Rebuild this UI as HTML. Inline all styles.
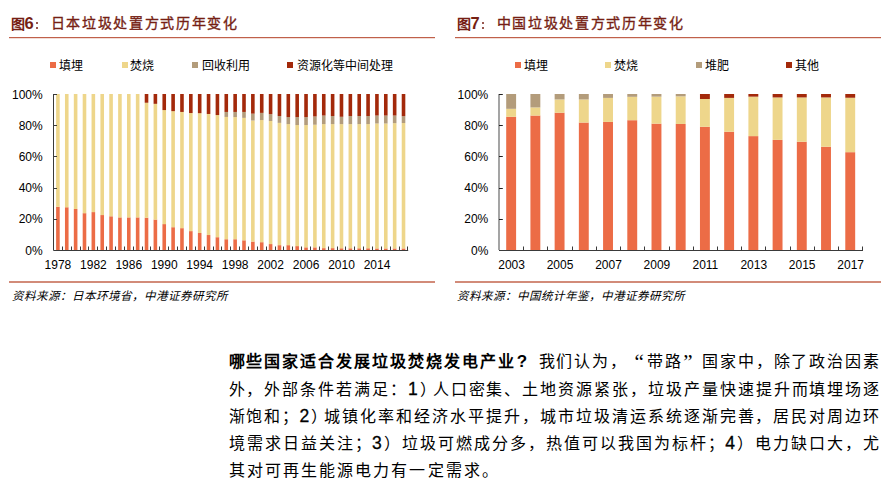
<!DOCTYPE html>
<html lang="zh-CN"><head><meta charset="utf-8">
<style>
html,body{margin:0;padding:0;background:#fff;}
body{width:890px;height:489px;position:relative;overflow:hidden;font-family:"Liberation Sans",sans-serif;color:#000;}
.abs{position:absolute;}
.ttl{position:absolute;top:13px;height:20px;line-height:20px;color:#761f14;font-weight:bold;white-space:nowrap;}
.ttl .fig{font-size:14px;}
.ttl .num{font-size:16.5px;position:relative;top:0.3px;}
.ttl .dot{position:absolute;width:2.6px;height:2.4px;border-radius:1px;background:#761f14;left:25px;}
.ttl .cn{position:absolute;top:0;font-size:14px;letter-spacing:1.7px;font-weight:400;-webkit-text-stroke:0.35px #761f14;}
.hl{position:absolute;top:37px;height:1px;background:#c0604a;box-shadow:0 1px 0 rgba(190,96,74,0.22);}
.hl2{position:absolute;top:281px;height:2px;background:#d28b79;}
.sq{position:absolute;top:62px;width:6px;height:6px;}
.lg{position:absolute;top:57.5px;font-size:12px;line-height:16px;white-space:nowrap;}
.src{position:absolute;top:288px;font-size:11.5px;line-height:16px;font-style:italic;white-space:nowrap;letter-spacing:1.0px;}
svg{position:absolute;left:0;top:0;}
svg text{font-family:"Liberation Sans",sans-serif;font-size:12px;fill:#000;}
.p{position:absolute;left:228.5px;width:652px;font-size:16px;line-height:20px;white-space:nowrap;letter-spacing:1.2px;text-align:justify;text-align-last:justify;}
.p b{font-weight:bold;}
.ql,.qr{display:inline-block;width:18px;} .ql{text-align:right;} .qr{text-align:left;}
.q{position:absolute;top:352px;font-family:"Liberation Serif",serif;font-size:21px;line-height:20px;}
.qm{display:inline-block;width:22px;font-size:17px;text-indent:1px;}
.d{font-size:17.5px;-webkit-text-stroke:0.3px #000;}
.cp{margin-right:-5px;}
.p.last{text-align-last:left;letter-spacing:2.1px;}
</style></head><body>
<div class="ttl" style="left:10.5px"><span class="fig">图</span><span class="num">6</span><i class="dot" style="top:9px"></i><i class="dot" style="top:14px"></i><span class="cn" style="left:40px">日本垃圾处置方式历年变化</span></div>
<div class="ttl" style="left:456.5px"><span class="fig">图</span><span class="num">7</span><i class="dot" style="top:9px"></i><i class="dot" style="top:14px"></i><span class="cn" style="left:40px">中国垃圾处置方式历年变化</span></div>
<div class="hl" style="left:9px;width:426px"></div>
<div class="hl" style="left:455px;width:425.5px"></div>
<div class="sq" style="left:50px;background:#ec6c46"></div>
<div class="lg" style="left:59px">填埋</div>
<div class="sq" style="left:121.5px;background:#eed68b"></div>
<div class="lg" style="left:130.2px">焚烧</div>
<div class="sq" style="left:192.2px;background:#b39c7b"></div>
<div class="lg" style="left:201.5px">回收利用</div>
<div class="sq" style="left:287.3px;background:#a3290a"></div>
<div class="lg" style="left:296.5px">资源化等中间处理</div>
<div class="sq" style="left:514.6px;background:#ec6c46"></div>
<div class="lg" style="left:524.2px">填埋</div>
<div class="sq" style="left:605.2px;background:#eed68b"></div>
<div class="lg" style="left:614.3px">焚烧</div>
<div class="sq" style="left:695.8px;background:#b39c7b"></div>
<div class="lg" style="left:704.7px">堆肥</div>
<div class="sq" style="left:786.2px;background:#a3290a"></div>
<div class="lg" style="left:795.3px">其他</div>
<svg width="890" height="300" viewBox="0 0 890 300" shape-rendering="auto">
<rect x="56.10" y="206.79" width="3.60" height="43.21" fill="#ec6c46"/>
<rect x="56.10" y="94.00" width="3.60" height="112.79" fill="#eed68b"/>
<rect x="64.96" y="207.26" width="3.60" height="42.74" fill="#ec6c46"/>
<rect x="64.96" y="94.00" width="3.60" height="113.26" fill="#eed68b"/>
<rect x="73.82" y="208.97" width="3.60" height="41.03" fill="#ec6c46"/>
<rect x="73.82" y="94.00" width="3.60" height="114.97" fill="#eed68b"/>
<rect x="82.69" y="213.18" width="3.60" height="36.82" fill="#ec6c46"/>
<rect x="82.69" y="94.00" width="3.60" height="119.18" fill="#eed68b"/>
<rect x="91.55" y="212.09" width="3.60" height="37.91" fill="#ec6c46"/>
<rect x="91.55" y="94.00" width="3.60" height="118.09" fill="#eed68b"/>
<rect x="100.41" y="215.06" width="3.60" height="34.94" fill="#ec6c46"/>
<rect x="100.41" y="94.00" width="3.60" height="121.06" fill="#eed68b"/>
<rect x="109.27" y="216.30" width="3.60" height="33.70" fill="#ec6c46"/>
<rect x="109.27" y="94.00" width="3.60" height="122.30" fill="#eed68b"/>
<rect x="118.13" y="217.40" width="3.60" height="32.60" fill="#ec6c46"/>
<rect x="118.13" y="94.00" width="3.60" height="123.40" fill="#eed68b"/>
<rect x="127.00" y="217.40" width="3.60" height="32.60" fill="#ec6c46"/>
<rect x="127.00" y="94.00" width="3.60" height="123.40" fill="#eed68b"/>
<rect x="135.86" y="217.40" width="3.60" height="32.60" fill="#ec6c46"/>
<rect x="135.86" y="94.00" width="3.60" height="123.40" fill="#eed68b"/>
<rect x="144.72" y="217.71" width="3.60" height="32.29" fill="#ec6c46"/>
<rect x="144.72" y="102.74" width="3.60" height="114.97" fill="#eed68b"/>
<rect x="144.72" y="94.00" width="3.60" height="8.74" fill="#a3290a"/>
<rect x="153.58" y="219.58" width="3.60" height="30.42" fill="#ec6c46"/>
<rect x="153.58" y="103.83" width="3.60" height="115.75" fill="#eed68b"/>
<rect x="153.58" y="94.00" width="3.60" height="9.83" fill="#a3290a"/>
<rect x="162.44" y="224.10" width="3.60" height="25.90" fill="#ec6c46"/>
<rect x="162.44" y="110.07" width="3.60" height="114.04" fill="#eed68b"/>
<rect x="162.44" y="94.00" width="3.60" height="16.07" fill="#a3290a"/>
<rect x="171.31" y="227.22" width="3.60" height="22.78" fill="#ec6c46"/>
<rect x="171.31" y="111.16" width="3.60" height="116.06" fill="#eed68b"/>
<rect x="171.31" y="94.00" width="3.60" height="17.16" fill="#a3290a"/>
<rect x="180.17" y="228.16" width="3.60" height="21.84" fill="#ec6c46"/>
<rect x="180.17" y="111.94" width="3.60" height="116.22" fill="#eed68b"/>
<rect x="180.17" y="94.00" width="3.60" height="17.94" fill="#a3290a"/>
<rect x="189.03" y="231.12" width="3.60" height="18.88" fill="#ec6c46"/>
<rect x="189.03" y="113.03" width="3.60" height="118.09" fill="#eed68b"/>
<rect x="189.03" y="94.00" width="3.60" height="19.03" fill="#a3290a"/>
<rect x="197.89" y="233.00" width="3.60" height="17.00" fill="#ec6c46"/>
<rect x="197.89" y="113.19" width="3.60" height="119.81" fill="#eed68b"/>
<rect x="197.89" y="94.00" width="3.60" height="19.19" fill="#a3290a"/>
<rect x="206.75" y="235.02" width="3.60" height="14.98" fill="#ec6c46"/>
<rect x="206.75" y="113.97" width="3.60" height="121.06" fill="#eed68b"/>
<rect x="206.75" y="94.00" width="3.60" height="19.97" fill="#a3290a"/>
<rect x="215.62" y="237.21" width="3.60" height="12.79" fill="#ec6c46"/>
<rect x="215.62" y="115.06" width="3.60" height="122.15" fill="#eed68b"/>
<rect x="215.62" y="94.00" width="3.60" height="21.06" fill="#a3290a"/>
<rect x="224.48" y="239.24" width="3.60" height="10.76" fill="#ec6c46"/>
<rect x="224.48" y="116.93" width="3.60" height="122.30" fill="#eed68b"/>
<rect x="224.48" y="111.94" width="3.60" height="4.99" fill="#b39c7b"/>
<rect x="224.48" y="94.00" width="3.60" height="17.94" fill="#a3290a"/>
<rect x="233.34" y="239.24" width="3.60" height="10.76" fill="#ec6c46"/>
<rect x="233.34" y="117.09" width="3.60" height="122.15" fill="#eed68b"/>
<rect x="233.34" y="111.94" width="3.60" height="5.15" fill="#b39c7b"/>
<rect x="233.34" y="94.00" width="3.60" height="17.94" fill="#a3290a"/>
<rect x="242.20" y="240.33" width="3.60" height="9.67" fill="#ec6c46"/>
<rect x="242.20" y="117.87" width="3.60" height="122.46" fill="#eed68b"/>
<rect x="242.20" y="111.94" width="3.60" height="5.93" fill="#b39c7b"/>
<rect x="242.20" y="94.00" width="3.60" height="17.94" fill="#a3290a"/>
<rect x="251.06" y="241.58" width="3.60" height="8.42" fill="#ec6c46"/>
<rect x="251.06" y="120.52" width="3.60" height="121.06" fill="#eed68b"/>
<rect x="251.06" y="113.66" width="3.60" height="6.86" fill="#b39c7b"/>
<rect x="251.06" y="94.00" width="3.60" height="19.66" fill="#a3290a"/>
<rect x="259.93" y="242.20" width="3.60" height="7.80" fill="#ec6c46"/>
<rect x="259.93" y="120.05" width="3.60" height="122.15" fill="#eed68b"/>
<rect x="259.93" y="112.88" width="3.60" height="7.18" fill="#b39c7b"/>
<rect x="259.93" y="94.00" width="3.60" height="18.88" fill="#a3290a"/>
<rect x="268.79" y="244.07" width="3.60" height="5.93" fill="#ec6c46"/>
<rect x="268.79" y="120.99" width="3.60" height="123.08" fill="#eed68b"/>
<rect x="268.79" y="114.12" width="3.60" height="6.86" fill="#b39c7b"/>
<rect x="268.79" y="94.00" width="3.60" height="20.12" fill="#a3290a"/>
<rect x="277.65" y="245.16" width="3.60" height="4.84" fill="#ec6c46"/>
<rect x="277.65" y="122.86" width="3.60" height="122.30" fill="#eed68b"/>
<rect x="277.65" y="116.00" width="3.60" height="6.86" fill="#b39c7b"/>
<rect x="277.65" y="94.00" width="3.60" height="22.00" fill="#a3290a"/>
<rect x="286.51" y="245.16" width="3.60" height="4.84" fill="#ec6c46"/>
<rect x="286.51" y="124.11" width="3.60" height="121.06" fill="#eed68b"/>
<rect x="286.51" y="117.09" width="3.60" height="7.02" fill="#b39c7b"/>
<rect x="286.51" y="94.00" width="3.60" height="23.09" fill="#a3290a"/>
<rect x="295.37" y="246.10" width="3.60" height="3.90" fill="#ec6c46"/>
<rect x="295.37" y="125.04" width="3.60" height="121.06" fill="#eed68b"/>
<rect x="295.37" y="117.09" width="3.60" height="7.96" fill="#b39c7b"/>
<rect x="295.37" y="94.00" width="3.60" height="23.09" fill="#a3290a"/>
<rect x="304.24" y="247.35" width="3.60" height="2.65" fill="#ec6c46"/>
<rect x="304.24" y="125.04" width="3.60" height="122.30" fill="#eed68b"/>
<rect x="304.24" y="117.09" width="3.60" height="7.96" fill="#b39c7b"/>
<rect x="304.24" y="94.00" width="3.60" height="23.09" fill="#a3290a"/>
<rect x="313.10" y="247.35" width="3.60" height="2.65" fill="#ec6c46"/>
<rect x="313.10" y="124.73" width="3.60" height="122.62" fill="#eed68b"/>
<rect x="313.10" y="116.46" width="3.60" height="8.27" fill="#b39c7b"/>
<rect x="313.10" y="94.00" width="3.60" height="22.46" fill="#a3290a"/>
<rect x="321.96" y="248.13" width="3.60" height="1.87" fill="#ec6c46"/>
<rect x="321.96" y="124.11" width="3.60" height="124.02" fill="#eed68b"/>
<rect x="321.96" y="115.53" width="3.60" height="8.58" fill="#b39c7b"/>
<rect x="321.96" y="94.00" width="3.60" height="21.53" fill="#a3290a"/>
<rect x="330.82" y="248.13" width="3.60" height="1.87" fill="#ec6c46"/>
<rect x="330.82" y="124.11" width="3.60" height="124.02" fill="#eed68b"/>
<rect x="330.82" y="116.00" width="3.60" height="8.11" fill="#b39c7b"/>
<rect x="330.82" y="94.00" width="3.60" height="22.00" fill="#a3290a"/>
<rect x="339.68" y="248.28" width="3.60" height="1.72" fill="#ec6c46"/>
<rect x="339.68" y="124.11" width="3.60" height="124.18" fill="#eed68b"/>
<rect x="339.68" y="116.78" width="3.60" height="7.33" fill="#b39c7b"/>
<rect x="339.68" y="94.00" width="3.60" height="22.78" fill="#a3290a"/>
<rect x="348.55" y="248.28" width="3.60" height="1.72" fill="#ec6c46"/>
<rect x="348.55" y="124.11" width="3.60" height="124.18" fill="#eed68b"/>
<rect x="348.55" y="116.00" width="3.60" height="8.11" fill="#b39c7b"/>
<rect x="348.55" y="94.00" width="3.60" height="22.00" fill="#a3290a"/>
<rect x="357.41" y="248.28" width="3.60" height="1.72" fill="#ec6c46"/>
<rect x="357.41" y="124.11" width="3.60" height="124.18" fill="#eed68b"/>
<rect x="357.41" y="116.00" width="3.60" height="8.11" fill="#b39c7b"/>
<rect x="357.41" y="94.00" width="3.60" height="22.00" fill="#a3290a"/>
<rect x="366.27" y="248.28" width="3.60" height="1.72" fill="#ec6c46"/>
<rect x="366.27" y="124.11" width="3.60" height="124.18" fill="#eed68b"/>
<rect x="366.27" y="116.00" width="3.60" height="8.11" fill="#b39c7b"/>
<rect x="366.27" y="94.00" width="3.60" height="22.00" fill="#a3290a"/>
<rect x="375.13" y="248.44" width="3.60" height="1.56" fill="#ec6c46"/>
<rect x="375.13" y="123.48" width="3.60" height="124.96" fill="#eed68b"/>
<rect x="375.13" y="115.53" width="3.60" height="7.96" fill="#b39c7b"/>
<rect x="375.13" y="94.00" width="3.60" height="21.53" fill="#a3290a"/>
<rect x="383.99" y="248.44" width="3.60" height="1.56" fill="#ec6c46"/>
<rect x="383.99" y="123.48" width="3.60" height="124.96" fill="#eed68b"/>
<rect x="383.99" y="115.53" width="3.60" height="7.96" fill="#b39c7b"/>
<rect x="383.99" y="94.00" width="3.60" height="21.53" fill="#a3290a"/>
<rect x="392.86" y="248.44" width="3.60" height="1.56" fill="#ec6c46"/>
<rect x="392.86" y="123.17" width="3.60" height="125.27" fill="#eed68b"/>
<rect x="392.86" y="115.53" width="3.60" height="7.64" fill="#b39c7b"/>
<rect x="392.86" y="94.00" width="3.60" height="21.53" fill="#a3290a"/>
<rect x="401.72" y="248.44" width="3.60" height="1.56" fill="#ec6c46"/>
<rect x="401.72" y="123.02" width="3.60" height="125.42" fill="#eed68b"/>
<rect x="401.72" y="116.15" width="3.60" height="6.86" fill="#b39c7b"/>
<rect x="401.72" y="94.00" width="3.60" height="22.15" fill="#a3290a"/>
<path d="M53.5 94V250.5H408.2" fill="none" stroke="#3a3a3a" stroke-width="1"/>
<path d="M53.5 219.5H57 M53.5 188.5H57 M53.5 156.5H57 M53.5 125.5H57 M53.5 94.5H57 M62.5 250V246.5 M71.5 250V246.5 M80.5 250V246.5 M88.5 250V246.5 M97.5 250V246.5 M106.5 250V246.5 M115.5 250V246.5 M124.5 250V246.5 M133.5 250V246.5 M142.5 250V246.5 M150.5 250V246.5 M159.5 250V246.5 M168.5 250V246.5 M177.5 250V246.5 M186.5 250V246.5 M195.5 250V246.5 M204.5 250V246.5 M213.5 250V246.5 M221.5 250V246.5 M230.5 250V246.5 M239.5 250V246.5 M248.5 250V246.5 M257.5 250V246.5 M266.5 250V246.5 M275.5 250V246.5 M283.5 250V246.5 M292.5 250V246.5 M301.5 250V246.5 M310.5 250V246.5 M319.5 250V246.5 M328.5 250V246.5 M337.5 250V246.5 M345.5 250V246.5 M354.5 250V246.5 M363.5 250V246.5 M372.5 250V246.5 M381.5 250V246.5 M390.5 250V246.5 M399.5 250V246.5 M407.5 250V246.5" fill="none" stroke="#3a3a3a" stroke-width="1"/>
<text x="42.7" y="254.5" text-anchor="end">0%</text>
<text x="42.7" y="223.3" text-anchor="end">20%</text>
<text x="42.7" y="192.1" text-anchor="end">40%</text>
<text x="42.7" y="160.9" text-anchor="end">60%</text>
<text x="42.7" y="129.7" text-anchor="end">80%</text>
<text x="42.7" y="98.5" text-anchor="end">100%</text>
<text x="57.9" y="268.8" text-anchor="middle">1978</text>
<text x="93.4" y="268.8" text-anchor="middle">1982</text>
<text x="128.8" y="268.8" text-anchor="middle">1986</text>
<text x="164.3" y="268.8" text-anchor="middle">1990</text>
<text x="199.7" y="268.8" text-anchor="middle">1994</text>
<text x="235.2" y="268.8" text-anchor="middle">1998</text>
<text x="270.6" y="268.8" text-anchor="middle">2002</text>
<text x="306.1" y="268.8" text-anchor="middle">2006</text>
<text x="341.5" y="268.8" text-anchor="middle">2010</text>
<text x="377.0" y="268.8" text-anchor="middle">2014</text>
<rect x="506.20" y="116.78" width="9.90" height="133.22" fill="#ec6c46"/>
<rect x="506.20" y="108.82" width="9.90" height="7.96" fill="#eed68b"/>
<rect x="506.20" y="94.00" width="9.90" height="14.82" fill="#b39c7b"/>
<rect x="530.42" y="115.53" width="9.90" height="134.47" fill="#ec6c46"/>
<rect x="530.42" y="107.42" width="9.90" height="8.11" fill="#eed68b"/>
<rect x="530.42" y="94.00" width="9.90" height="13.42" fill="#b39c7b"/>
<rect x="554.64" y="112.72" width="9.90" height="137.28" fill="#ec6c46"/>
<rect x="554.64" y="99.46" width="9.90" height="13.26" fill="#eed68b"/>
<rect x="554.64" y="94.00" width="9.90" height="5.46" fill="#b39c7b"/>
<rect x="578.86" y="122.55" width="9.90" height="127.45" fill="#ec6c46"/>
<rect x="578.86" y="99.46" width="9.90" height="23.09" fill="#eed68b"/>
<rect x="578.86" y="94.00" width="9.90" height="5.46" fill="#b39c7b"/>
<rect x="603.08" y="121.92" width="9.90" height="128.08" fill="#ec6c46"/>
<rect x="603.08" y="97.90" width="9.90" height="24.02" fill="#eed68b"/>
<rect x="603.08" y="94.00" width="9.90" height="3.90" fill="#b39c7b"/>
<rect x="627.30" y="120.21" width="9.90" height="129.79" fill="#ec6c46"/>
<rect x="627.30" y="96.81" width="9.90" height="23.40" fill="#eed68b"/>
<rect x="627.30" y="94.00" width="9.90" height="2.81" fill="#b39c7b"/>
<rect x="651.52" y="123.64" width="9.90" height="126.36" fill="#ec6c46"/>
<rect x="651.52" y="96.65" width="9.90" height="26.99" fill="#eed68b"/>
<rect x="651.52" y="94.00" width="9.90" height="2.65" fill="#b39c7b"/>
<rect x="675.74" y="123.95" width="9.90" height="126.05" fill="#ec6c46"/>
<rect x="675.74" y="96.34" width="9.90" height="27.61" fill="#eed68b"/>
<rect x="675.74" y="94.00" width="9.90" height="2.34" fill="#b39c7b"/>
<rect x="699.96" y="126.76" width="9.90" height="123.24" fill="#ec6c46"/>
<rect x="699.96" y="98.99" width="9.90" height="27.77" fill="#eed68b"/>
<rect x="699.96" y="94.00" width="9.90" height="4.99" fill="#a3290a"/>
<rect x="724.18" y="131.75" width="9.90" height="118.25" fill="#ec6c46"/>
<rect x="724.18" y="97.90" width="9.90" height="33.85" fill="#eed68b"/>
<rect x="724.18" y="94.00" width="9.90" height="3.90" fill="#a3290a"/>
<rect x="748.40" y="136.12" width="9.90" height="113.88" fill="#ec6c46"/>
<rect x="748.40" y="96.65" width="9.90" height="39.47" fill="#eed68b"/>
<rect x="748.40" y="94.00" width="9.90" height="2.65" fill="#a3290a"/>
<rect x="772.62" y="139.86" width="9.90" height="110.14" fill="#ec6c46"/>
<rect x="772.62" y="97.43" width="9.90" height="42.43" fill="#eed68b"/>
<rect x="772.62" y="94.00" width="9.90" height="3.43" fill="#a3290a"/>
<rect x="796.84" y="141.74" width="9.90" height="108.26" fill="#ec6c46"/>
<rect x="796.84" y="97.43" width="9.90" height="44.30" fill="#eed68b"/>
<rect x="796.84" y="94.00" width="9.90" height="3.43" fill="#a3290a"/>
<rect x="821.06" y="146.73" width="9.90" height="103.27" fill="#ec6c46"/>
<rect x="821.06" y="97.43" width="9.90" height="49.30" fill="#eed68b"/>
<rect x="821.06" y="94.00" width="9.90" height="3.43" fill="#a3290a"/>
<rect x="845.28" y="152.19" width="9.90" height="97.81" fill="#ec6c46"/>
<rect x="845.28" y="97.74" width="9.90" height="54.44" fill="#eed68b"/>
<rect x="845.28" y="94.00" width="9.90" height="3.74" fill="#a3290a"/>
<path d="M499 94V250" fill="none" stroke="#5a5a5a" stroke-width="1.1"/>
<path d="M499 219.5H502.8 M499 188.5H502.8 M499 156.5H502.8 M499 125.5H502.8 M499 94.5H502.8" fill="none" stroke="#202020" stroke-width="1"/>
<path d="M499 250.5H863 M523.5 250V246.5 M547.5 250V246.5 M572.5 250V246.5 M596.5 250V246.5 M620.5 250V246.5 M644.5 250V246.5 M669.5 250V246.5 M693.5 250V246.5 M717.5 250V246.5 M741.5 250V246.5 M765.5 250V246.5 M790.5 250V246.5 M814.5 250V246.5 M838.5 250V246.5 M862.5 250V246.5" fill="none" stroke="#3a3a3a" stroke-width="1"/>
<text x="488.3" y="254.5" text-anchor="end">0%</text>
<text x="488.3" y="223.3" text-anchor="end">20%</text>
<text x="488.3" y="192.1" text-anchor="end">40%</text>
<text x="488.3" y="160.9" text-anchor="end">60%</text>
<text x="488.3" y="129.7" text-anchor="end">80%</text>
<text x="488.3" y="98.5" text-anchor="end">100%</text>
<text x="511.6" y="268.8" text-anchor="middle">2003</text>
<text x="560.0" y="268.8" text-anchor="middle">2005</text>
<text x="608.5" y="268.8" text-anchor="middle">2007</text>
<text x="656.9" y="268.8" text-anchor="middle">2009</text>
<text x="705.4" y="268.8" text-anchor="middle">2011</text>
<text x="753.8" y="268.8" text-anchor="middle">2013</text>
<text x="802.2" y="268.8" text-anchor="middle">2015</text>
<text x="850.7" y="268.8" text-anchor="middle">2017</text>
</svg>
<div class="hl2" style="left:9px;width:426px"></div>
<div class="hl2" style="left:455px;width:425.5px"></div>
<div class="src" style="left:11.5px">资料来源：日本环境省，中港证券研究所</div>
<div class="src" style="left:457px">资料来源：中国统计年鉴，中港证券研究所</div>
<div class="p" style="top:352.2px"><b>哪些国家适合发展垃圾焚烧发电产业<span class="qm">?</span></b>我们认为，<span class="ql"></span>带路<span class="qr"></span>国家中，除了政治因素</div>
<div class="p" style="top:379.2px">外，外部条件若满足：<span class="d">1</span><span class="cp">）</span>人口密集、土地资源紧张，垃圾产量快速提升而填埋场逐</div>
<div class="p" style="top:406.2px">渐饱和；<span class="d">2</span><span class="cp">）</span>城镇化率和经济水平提升，城市垃圾清运系统逐渐完善，居民对周边环</div>
<div class="p" style="top:433.2px">境需求日益关注；<span class="d">3</span>）垃圾可燃成分多，热值可以我国为标杆；<span class="d">4</span>）电力缺口大，尤</div>
<div class="q" style="left:634.5px">“</div><div class="q" style="left:683.3px">”</div>
<div class="p last" style="top:460.5px">其对可再生能源电力有一定需求。</div>
</body></html>
